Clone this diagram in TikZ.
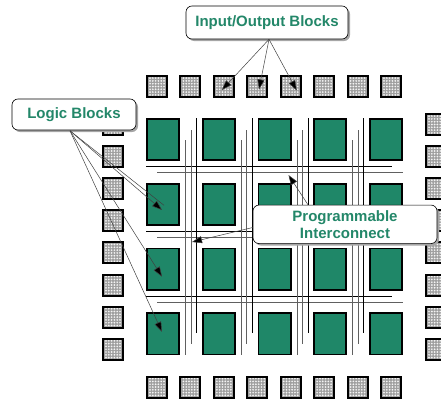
\documentclass[tikz,border=0pt]{standalone}
\usepackage{fontspec}
\setmainfont{Liberation Sans}
\usetikzlibrary{arrows.meta,shadows,calc}
\definecolor{cellgreen}{RGB}{31,135,104}
\definecolor{textgreen}{RGB}{35,135,105}
\begin{document}
\begin{tikzpicture}[x=1pt,y=-1pt,
  logicblk/.style={draw=black, line width=1.8pt, fill=cellgreen,
    minimum width=32.2pt, minimum height=41.2pt, inner sep=0pt, outer sep=0pt},
  ioblk/.style={draw=black, line width=2pt, fill=gray!75,
    path picture={
      \foreach \u in {-7,-4.2,...,7.1} {
        \foreach \v in {-8.4,-5.6,...,8.5} {
          \fill[white!92!gray] ($(path picture bounding box.center)+(\u,\v)$) circle (0.95pt);
        }
      }
    },
    minimum width=20pt, minimum height=21pt, inner sep=0pt, outer sep=0pt},
  wireA/.style={draw=gray!75!black, line width=0.8pt},
  wireB/.style={draw=black, line width=0.8pt},
  callout/.style={draw=black, line width=0.6pt, fill=white, rounded corners=6pt,
    drop shadow={shadow xshift=2pt, shadow yshift=-2pt, fill=gray!70, opacity=1},
    font=\fontsize{15}{17}\selectfont\bfseries, text=textgreen, align=center,
    inner sep=0pt},
  leader/.style={draw=black!75, line width=0.5pt,
    -{Triangle[length=10pt,width=7pt,fill=black]}},
  plainleader/.style={draw=black!75, line width=0.5pt}]

\useasboundingbox (0,0) rectangle (441,399);

% routing channels between the rows
\foreach \b in {161,226,291} {
  \draw[wireB] (146,\b+5.7) -- (392,\b+5.7);
  \draw[wireA] (157,\b+11) -- (403,\b+11);
}
% routing channels between the columns
\foreach \r in {180,235.75,291.5,347.25} {
  \draw[wireA] (\r+5.5,140) -- (\r+5.5,355);
  \draw[wireA] (\r+11,130) -- (\r+11,344);
  \draw[wireB] (\r+16.5,118) -- (\r+16.5,333);
}

% logic block array
\foreach \j in {1,...,4} {
  \foreach \i in {1,...,5} {
    \node[logicblk] (lb-\j-\i) at ({163+55.75*(\i-1)},{139.5+64.8*(\j-1)}) {};
  }
}

% I/O blocks around the edge
\foreach \i in {1,...,8} {
  \node[ioblk] (io-t\i) at ({157+33.43*(\i-1)},86.5) {};
  \node[ioblk] (io-b\i) at ({157+33.43*(\i-1)},387) {};
  \node[ioblk] (io-l\i) at (113,{124.5+32.1*(\i-1)}) {};
  \node[ioblk] (io-r\i) at (436,{124.5+32.1*(\i-1)}) {};
}

% callouts
\node[callout, minimum width=162pt, minimum height=33pt] (iolbl) at (267,22.5) {Input/Output Blocks};
\node[callout, minimum width=124pt, minimum height=31pt] (lglbl) at (74,114.5) {Logic Blocks};
\node[callout, minimum width=184pt, minimum height=38.5pt] (iclbl) at (345,224.3) {Programmable\\Interconnect};

% leaders: I/O blocks
\coordinate (ioorg) at ($(iolbl.south)+(2,0)$);
\draw[leader] (ioorg) -- ($(io-t3.center)+(-2,3.5)$);
\draw[leader] (ioorg) -- ($(io-t4.center)+(1.7,3)$);
\draw[leader] (ioorg) -- ($(io-t5.center)+(6,4)$);

% leaders: logic blocks
\coordinate (lgorg) at ($(lglbl.south)+(-4,0.5)$);
\draw[plainleader] (lgorg) -- ($(lb-2-1.center)+(1,1)$);
\draw[leader] (lgorg) -- ($(lb-2-1.center)+(-1,5.7)$);
\draw[leader] (lgorg) -- ($(lb-3-1.center)+(-1,7.6)$);
\draw[leader] (lgorg) -- ($(lb-4-1.center)+(-1,-2)$);

% leaders: interconnect
\draw[leader] ($(iclbl.north)+(-37,0)$) -- (288.5,175);
\draw[leader] ($(iclbl.west)+(0,3.2)$) -- (192,242);
\end{tikzpicture}
\end{document}
